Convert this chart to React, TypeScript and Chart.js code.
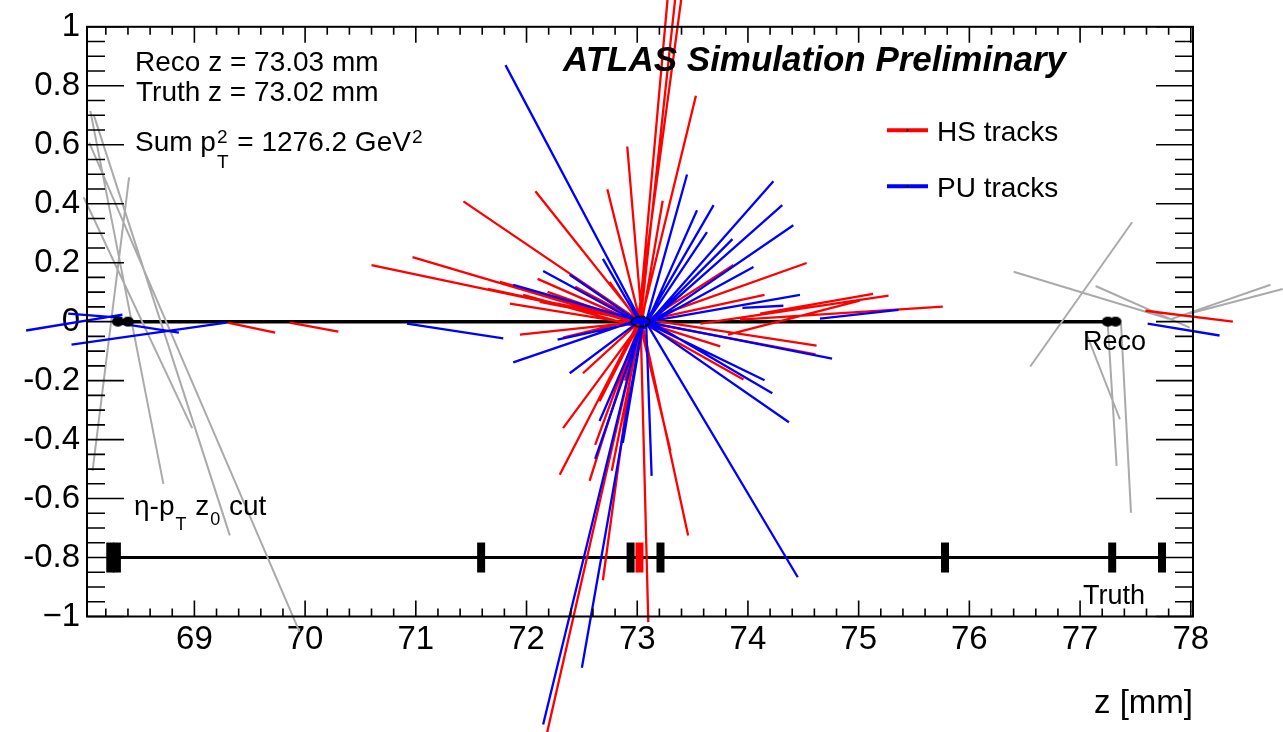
import React, { useEffect, useRef } from 'react';
import { Chart, registerables } from 'chart.js';

Chart.register(...registerables);

const FONT = "'Liberation Sans', Arial, Helvetica, sans-serif";

// Axis ranges and tick positions
const zMin = 68.03;
const zMax = 78.02;
const yMin = -1;
const yMax = 1;
const xMajorTicks = [69, 70, 71, 72, 73, 74, 75, 76, 77, 78];
const yMajorTicks = [-1, -0.8, -0.6, -0.4, -0.2, 0, 0.2, 0.4, 0.6, 0.8, 1];

// Vertices along the beam line (z in mm)
const recoLevel = 0;
const truthLevel = -0.8;
const recoVertexZ = [68.31, 68.4, 77.25, 77.32];
const hsRecoVertexZ = [73.03];
const truthVertexZ = [68.24, 68.3, 71.59, 72.94, 73.21, 75.78, 77.29, 77.74];
const hsTruthVertexZ = [73.02];
const sumPt2 = 1276.2;

// Tracks as [z start, y start, z end, y end]
const hsTracks: number[][] = [
  [71.43, 0.408, 73.03, 0.0],
  [72.08, 0.442, 73.04, -0.01],
  [70.97, 0.219, 73.03, -0.01],
  [70.6, 0.192, 73.02, 0.0],
  [72.91, 0.594, 73.05, -0.03],
  [72.73, 0.449, 73.04, -0.02],
  [71.76, 0.135, 73.03, 0.0],
  [71.85, 0.061, 73.02, -0.01],
  [71.97, 0.091, 73.03, -0.02],
  [72.1, 0.145, 73.04, -0.01],
  [71.65, 0.111, 73.03, 0.0],
  [72.19, 0.101, 73.03, -0.01],
  [72.28, 0.061, 73.03, 0.0],
  [72.12, 0.067, 73.03, 0.0],
  [72.57, 0.067, 73.04, -0.01],
  [72.44, 0.118, 73.03, 0.0],
  [72.75, 0.135, 73.05, -0.02],
  [73.28, 1.12, 73.02, 0.02],
  [73.35, 1.12, 73.03, 0.0],
  [73.4, 1.1, 72.69, -0.877],
  [73.53, 0.766, 73.02, -0.02],
  [73.23, 0.41, 73.02, -0.05],
  [74.53, 0.199, 73.04, 0.0],
  [73.87, 0.192, 73.03, -0.01],
  [74.15, 0.091, 73.03, 0.0],
  [75.27, 0.088, 73.57, -0.007],
  [75.76, 0.051, 73.93, 0.007],
  [75.13, 0.094, 74.11, 0.027],
  [73.82, -0.044, 75.01, 0.071],
  [73.03, 0.01, 74.62, -0.081],
  [73.04, 0.0, 74.61, -0.111],
  [73.03, 0.0, 73.96, -0.196],
  [73.04, 0.0, 73.75, -0.084],
  [73.03, 0.02, 73.46, -0.725],
  [73.02, 0.0, 73.3, -0.438],
  [73.03, 0.0, 73.1, -1.019],
  [73.05, 0.01, 72.51, -0.175],
  [73.04, 0.0, 72.33, -0.361],
  [73.04, 0.02, 72.3, -0.519],
  [73.03, 0.0, 72.62, -0.418],
  [73.04, 0.01, 72.66, -0.27],
  [73.05, 0.02, 72.77, -0.506],
  [73.04, 0.02, 72.57, -0.54],
  [73.03, 0.0, 72.89, -0.2],
  [73.05, 0.03, 72.17, -1.42],
  [73.04, 0.0, 71.94, -0.044],
  [72.33, -0.054, 73.03, 0.01],
  [69.3, -0.003, 69.73, -0.037],
  [69.86, -0.003, 70.3, -0.034],
  [77.59, 0.037, 78.38, 0.0],
];

const puTracks: number[][] = [
  [71.81, 0.87, 73.07, -0.024],
  [72.15, 0.172, 73.04, -0.01],
  [72.39, 0.159, 73.05, -0.01],
  [71.88, 0.125, 73.04, 0.0],
  [72.69, 0.213, 73.05, -0.02],
  [70.92, -0.007, 71.79, -0.057],
  [71.88, -0.138, 73.04, 0.01],
  [72.39, -0.175, 73.05, 0.01],
  [72.62, -0.465, 73.05, 0.0],
  [72.87, -0.411, 73.06, 0.01],
  [72.66, -0.337, 73.06, 0.01],
  [72.5, -1.174, 73.06, 0.02],
  [72.15, -1.366, 73.05, 0.02],
  [73.45, 0.499, 73.08, 0.0],
  [74.23, 0.476, 73.09, -0.01],
  [74.31, 0.395, 73.09, -0.01],
  [74.41, 0.327, 73.1, -0.01],
  [73.69, 0.395, 73.08, 0.0],
  [73.54, 0.378, 73.08, -0.01],
  [73.63, 0.304, 73.09, 0.0],
  [73.86, 0.28, 73.09, -0.01],
  [74.05, 0.185, 73.1, -0.01],
  [74.47, 0.091, 73.1, 0.0],
  [73.95, 0.047, 74.32, 0.054],
  [74.65, 0.01, 75.36, 0.04],
  [73.07, 0.0, 74.76, -0.125],
  [73.06, 0.0, 74.15, -0.199],
  [73.07, 0.01, 74.22, -0.243],
  [73.06, 0.0, 74.37, -0.341],
  [73.08, 0.0, 73.13, -0.523],
  [73.06, 0.01, 74.45, -0.867],
  [73.03, 0.0, 72.28, -0.061],
  [67.48, -0.03, 68.35, 0.024],
  [67.86, 0.027, 68.35, 0.013],
  [67.89, -0.078, 69.29, -0.003],
  [68.28, -0.003, 68.86, -0.037],
  [77.61, -0.007, 78.26, -0.047],
];

const cutTracks: number[][] = [
  [68.06, 0.715, 68.72, -0.55],
  [68.09, 0.702, 69.32, -0.725],
  [68.05, 0.607, 69.95, -1.052],
  [68.0, 0.422, 68.98, -0.361],
  [68.41, 0.489, 68.08, -0.506],
  [76.55, -0.152, 77.47, 0.337],
  [76.4, 0.169, 77.8, 0.01],
  [77.14, 0.121, 77.99, -0.02],
  [77.81, 0.007, 78.72, 0.125],
  [77.98, 0.027, 78.83, 0.111],
  [77.05, -0.034, 77.36, -0.331],
  [77.25, -0.007, 77.33, -0.489],
  [77.37, -0.007, 77.46, -0.648],
];

const HS_COLOR = '#ff0000';
const PU_COLOR = '#0000ff';
const CUT_COLOR = '#aaaaaa';

function segmentPoints(tracks: number[][]) {
  const pts: { x: number; y: number | null }[] = [];
  for (const [z1, y1, z2, y2] of tracks) {
    pts.push({ x: z1, y: y1 }, { x: z2, y: y2 }, { x: z2, y: null });
  }
  return pts;
}

function ellipseSprite(w: number, h: number, filled: boolean) {
  const c = document.createElement('canvas');
  c.width = w + 4;
  c.height = h + 4;
  const g = c.getContext('2d')!;
  g.beginPath();
  g.ellipse(c.width / 2, c.height / 2, w / 2, h / 2, 0, 0, Math.PI * 2);
  if (filled) {
    g.fillStyle = '#000';
    g.fill();
  } else {
    g.strokeStyle = '#000';
    g.lineWidth = 1.6;
    g.stroke();
  }
  return c;
}

type Run = { text?: string; sup?: string; sub?: string; supDy?: number; subDy?: number; small?: number };

function drawRuns(ctx: CanvasRenderingContext2D, x: number, y: number, size: number, runs: Run[]) {
  let cx = x;
  for (const r of runs) {
    if (r.text !== undefined) {
      ctx.font = `${size}px ${FONT}`;
      ctx.fillText(r.text, cx, y);
      cx += ctx.measureText(r.text).width;
    } else {
      const s = r.small ?? Math.round(size * 0.68);
      ctx.font = `${s}px ${FONT}`;
      let w = 0;
      if (r.sup) {
        ctx.fillText(r.sup, cx + 1, y + (r.supDy ?? -size * 0.29));
        w = Math.max(w, ctx.measureText(r.sup).width);
      }
      if (r.sub) {
        ctx.fillText(r.sub, cx + 1, y + (r.subDy ?? size * 0.6));
        w = Math.max(w, ctx.measureText(r.sub).width);
      }
      cx += w + 2;
    }
  }
}

// Frame with inward ticks on all four sides
const frameTicks = {
  id: 'frameTicks',
  afterDatasetsDraw(chart: any) {
    const { ctx, chartArea: a, scales } = chart;
    const xs = scales.x;
    const ys = scales.y;
    ctx.save();
    ctx.strokeStyle = '#000';
    ctx.lineWidth = 2;
    ctx.strokeRect(a.left, a.top, a.right - a.left, a.bottom - a.top);
    ctx.lineWidth = 1.6;
    ctx.beginPath();
    for (let i = Math.ceil(zMin / 0.2 - 1e-6); i * 0.2 <= zMax + 1e-6; i++) {
      const v = i * 0.2;
      const major = xMajorTicks.some((t) => Math.abs(t - v) < 1e-6);
      const len = major ? 16 : 8;
      const px = xs.getPixelForValue(v);
      ctx.moveTo(px, a.bottom);
      ctx.lineTo(px, a.bottom - len);
      ctx.moveTo(px, a.top);
      ctx.lineTo(px, a.top + len);
    }
    for (let i = Math.round(yMin / 0.05); i <= Math.round(yMax / 0.05); i++) {
      const v = i * 0.05;
      const major = yMajorTicks.some((t) => Math.abs(t - v) < 1e-6);
      const len = major ? 37 : 18;
      const py = ys.getPixelForValue(v);
      ctx.moveTo(a.left, py);
      ctx.lineTo(a.left + len, py);
      ctx.moveTo(a.right, py);
      ctx.lineTo(a.right - len, py);
    }
    ctx.stroke();
    ctx.restore();
  },
};

// Labels, legend and captions
const annotations = {
  id: 'annotations',
  afterDraw(chart: any) {
    const { ctx, chartArea: a } = chart;
    ctx.save();
    ctx.fillStyle = '#000';
    ctx.textAlign = 'left';
    ctx.textBaseline = 'alphabetic';

    ctx.font = `28px ${FONT}`;
    ctx.fillText(`Reco z = ${hsRecoVertexZ[0].toFixed(2)} mm`, a.left + 48, a.top + 44.5);
    ctx.fillText(`Truth z = ${hsTruthVertexZ[0].toFixed(2)} mm`, a.left + 49, a.top + 74.5);
    drawRuns(ctx, a.left + 48, a.top + 124.5, 28, [
      { text: 'Sum p' },
      { sup: '2', sub: 'T', subDy: 17, supDy: -8 },
      { text: ` = ${sumPt2.toFixed(1)} GeV` },
      { sup: '2', supDy: -8 },
    ]);
    drawRuns(ctx, a.left + 47, a.top + 488, 28, [
      { text: 'η-p' },
      { sub: 'T', subDy: 15, small: 18 },
      { text: ' z' },
      { sub: '0', subDy: 10, small: 18 },
      { text: ' cut' },
    ]);

    ctx.font = `italic bold 35px ${FONT}`;
    ctx.fillText('ATLAS Simulation Preliminary', a.left + 476, a.top + 44.5);

    // legend
    const legend = [
      { color: HS_COLOR, label: 'HS tracks', y: a.top + 103.5 },
      { color: PU_COLOR, label: 'PU tracks', y: a.top + 159.5 },
    ];
    for (const item of legend) {
      ctx.strokeStyle = item.color;
      ctx.lineWidth = 4;
      ctx.beginPath();
      ctx.moveTo(a.left + 800, item.y);
      ctx.lineTo(a.left + 841, item.y);
      ctx.stroke();
      ctx.fillStyle = '#000';
      ctx.fillRect(a.left + 819.5, item.y - 1, 2, 2);
      ctx.font = `28px ${FONT}`;
      ctx.fillText(item.label, a.left + 850, item.y + 11);
    }

    ctx.font = `27px ${FONT}`;
    ctx.fillText('Reco', a.left + 996, a.top + 323.5);
    ctx.fillText('Truth', a.left + 996, a.top + 577.5);
    ctx.restore();
  },
};

export default function App() {
  const ref = useRef<HTMLCanvasElement>(null);

  useEffect(() => {
    const canvas = ref.current;
    if (!canvas) return;

    const filledVertex = ellipseSprite(12, 10, true);
    const hollowVertex = ellipseSprite(19, 10, false);

    const recoAll = [...recoVertexZ, ...hsRecoVertexZ];
    const truthAll = [...truthVertexZ, ...hsTruthVertexZ];

    const lineDefaults = {
      showLine: true,
      spanGaps: false,
      pointRadius: 0,
      pointHoverRadius: 0,
      tension: 0,
      clip: false as const,
    };

    const chart = new Chart(canvas, {
      type: 'scatter',
      data: {
        datasets: [
          {
            label: 'Reco vertices (HS)',
            data: hsRecoVertexZ.map((z) => ({ x: z, y: recoLevel })),
            showLine: false,
            pointStyle: hollowVertex,
            pointRadius: 6,
            order: 1,
            clip: false,
          },
          {
            label: 'Reco vertices',
            data: recoVertexZ.map((z) => ({ x: z, y: recoLevel })),
            showLine: false,
            pointStyle: filledVertex,
            pointRadius: 6,
            order: 2,
            clip: false,
          },
          {
            label: 'Truth HS vertex',
            data: hsTruthVertexZ.map((z) => ({ x: z, y: truthLevel })),
            showLine: false,
            pointStyle: 'line',
            pointRotation: 90,
            pointRadius: 15,
            pointBorderWidth: 8,
            pointBorderColor: HS_COLOR,
            order: 3,
            clip: false,
          },
          {
            label: 'Truth vertices',
            data: truthVertexZ.map((z) => ({ x: z, y: truthLevel })),
            showLine: false,
            pointStyle: 'line',
            pointRotation: 90,
            pointRadius: 15,
            pointBorderWidth: 8,
            pointBorderColor: '#000',
            order: 4,
            clip: false,
          },
          {
            label: 'PU tracks',
            data: segmentPoints(puTracks),
            borderColor: PU_COLOR,
            borderWidth: 2.3,
            ...lineDefaults,
            order: 5,
          },
          {
            label: 'HS tracks',
            data: segmentPoints(hsTracks),
            borderColor: HS_COLOR,
            borderWidth: 2.3,
            ...lineDefaults,
            order: 6,
          },
          {
            label: 'Cut tracks',
            data: segmentPoints(cutTracks),
            borderColor: CUT_COLOR,
            borderWidth: 2,
            ...lineDefaults,
            order: 7,
          },
          {
            label: 'Truth axis',
            data: [
              { x: Math.min(...truthAll), y: truthLevel },
              { x: Math.max(...truthAll), y: truthLevel },
            ],
            borderColor: '#000',
            borderWidth: 3,
            ...lineDefaults,
            order: 8,
          },
          {
            label: 'Reco axis',
            data: [
              { x: Math.min(...recoAll), y: recoLevel },
              { x: Math.max(...recoAll), y: recoLevel },
            ],
            borderColor: '#000',
            borderWidth: 3.5,
            ...lineDefaults,
            order: 9,
          },
        ] as any,
      },
      options: {
        animation: false,
        responsive: false,
        devicePixelRatio: 1,
        events: [],
        layout: { padding: { left: 0, top: 23.5, right: 90, bottom: 0 } },
        plugins: {
          legend: { display: false },
          tooltip: { enabled: false },
        },
        scales: {
          x: {
            type: 'linear',
            position: 'bottom',
            min: zMin,
            max: zMax,
            grid: { display: false, drawTicks: false },
            border: { display: false },
            afterBuildTicks: (scale: any) => {
              scale.ticks = xMajorTicks.map((v) => ({ value: v }));
            },
            afterFit: (scale: any) => {
              scale.height = 115.5;
            },
            ticks: {
              autoSkip: false,
              maxRotation: 0,
              minRotation: 0,
              padding: 4,
              color: '#000',
              font: { family: FONT, size: 33 },
              callback: (v: any) => String(v),
            },
            title: {
              display: true,
              text: 'z [mm]',
              align: 'end',
              color: '#000',
              font: { family: FONT, size: 33 },
              padding: { top: 0, bottom: 8 },
            },
          },
          y: {
            type: 'linear',
            position: 'left',
            min: yMin,
            max: yMax,
            grid: { display: false, drawTicks: false },
            border: { display: false },
            afterBuildTicks: (scale: any) => {
              scale.ticks = yMajorTicks.map((v) => ({ value: v }));
            },
            afterFit: (scale: any) => {
              scale.width = 87;
            },
            ticks: {
              autoSkip: false,
              padding: 7,
              color: '#000',
              font: { family: FONT, size: 33 },
              callback: (v: any) => (v === -1 ? '−1' : String(Number(v.toFixed(1)))),
            },
          },
        },
      },
      plugins: [frameTicks, annotations],
    } as any);

    return () => chart.destroy();
  }, []);

  return (
    <div style={{ position: 'fixed', left: 0, top: 0, width: 1283, height: 732, background: '#fff' }}>
      <canvas ref={ref} width={1283} height={732} style={{ display: 'block', width: 1283, height: 732 }} />
    </div>
  );
}
